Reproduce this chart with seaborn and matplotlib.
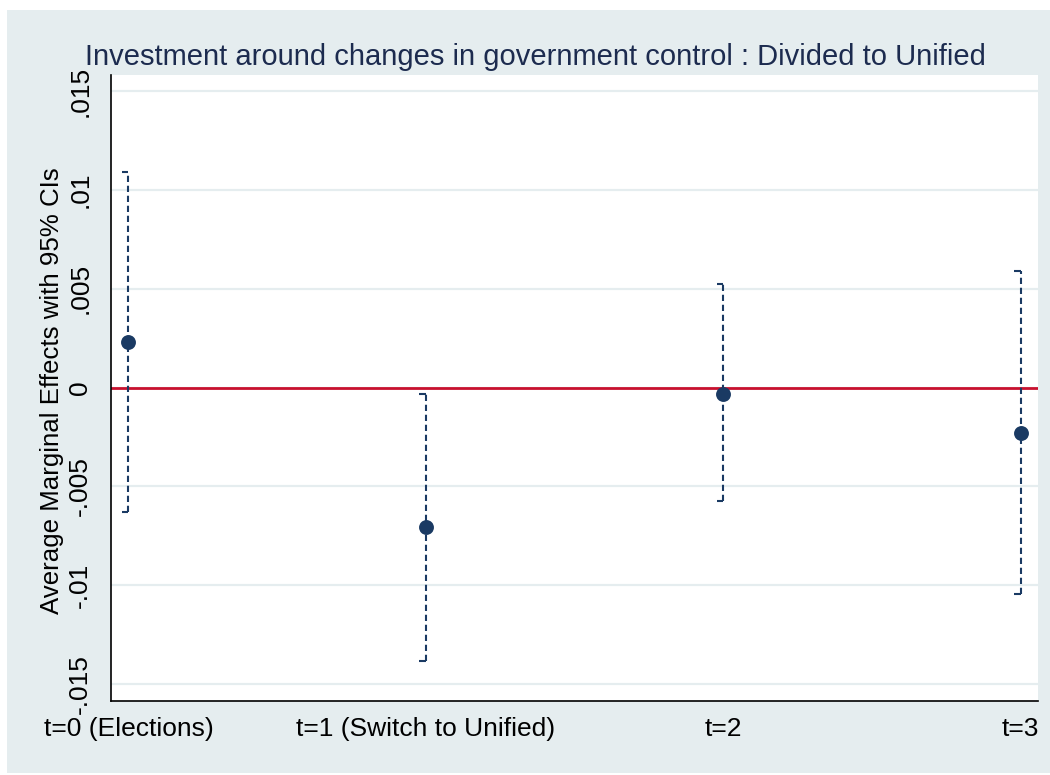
import matplotlib
matplotlib.use("Agg")
import matplotlib.pyplot as plt
from matplotlib.patches import Rectangle
import pandas as pd
import seaborn as sns

# Average marginal effects and 95% confidence bounds by period
periods = ["t=0 (Elections)", "t=1 (Switch to Unified)", "t=2", "t=3"]
margins = [0.00229, -0.00708, -0.00034, -0.00232]
ci_low = [-0.00632, -0.01387, -0.00574, -0.01047]
ci_high = [0.01092, -0.00034, 0.00523, 0.00590]

ytick_vals = [-0.015, -0.01, -0.005, 0, 0.005, 0.01, 0.015]
ytick_labels = ["-.015", "-.01", "-.005", "0", ".005", ".01", ".015"]

title = "Investment around changes in government control : Divided to Unified"
ylabel = "Average Marginal Effects with 95% CIs"

BG = "#E5EDEF"
NAVY = "#1A3A63"
RED = "#C8102E"
TITLE_C = "#1C2B4F"

sns.set_theme(style="white")
plt.rcParams["font.family"] = ["Liberation Sans", "DejaVu Sans"]

df = pd.DataFrame({"pos": range(len(periods)), "margin": margins,
                   "lo": ci_low, "hi": ci_high})

W, H = 1050, 775
fig = plt.figure(figsize=(W / 100, H / 100), dpi=100, facecolor="white")
fig.patches.append(Rectangle((7 / W, 2 / H), 1043 / W, 763 / H,
                             transform=fig.transFigure, facecolor=BG,
                             edgecolor="none", zorder=-10))

ax = fig.add_axes([111 / W, 74 / H, 927 / W, 626 / H])
ax.set_facecolor("white")

# horizontal grid in the background tint
for v in ytick_vals:
    ax.axhline(v, color=BG, lw=1.6, zorder=0)

# reference line at zero
ax.axhline(0, color=RED, lw=2.0, zorder=2)

# dashed confidence intervals with half caps
cap = 0.022
ax.vlines(df["pos"], df["lo"], df["hi"], colors=NAVY, lw=1.5,
          linestyles=(0, (3, 1.8)), zorder=3)
ax.hlines(df["lo"], df["pos"] - cap, df["pos"], colors=NAVY, lw=1.5, zorder=3)
ax.hlines(df["hi"], df["pos"] - cap, df["pos"], colors=NAVY, lw=1.5, zorder=3)

sns.scatterplot(data=df, x="pos", y="margin", ax=ax, s=115, color=NAVY,
                edgecolor=NAVY, linewidth=0, zorder=5, legend=False)

ax.set_xlim(-0.0588, 3.058)
ax.set_ylim(-0.01588, 0.01583)
ax.set_xticks(df["pos"], periods)
ax.set_yticks(ytick_vals, ytick_labels, rotation=90, va="center")
ax.set_xlabel("")
ax.set_ylabel("")

for side in ["top", "right"]:
    ax.spines[side].set_visible(False)
for side in ["left", "bottom"]:
    ax.spines[side].set_color("black")
    ax.spines[side].set_linewidth(1.2)

ax.tick_params(axis="both", which="major", direction="out", length=7.5,
               width=0.9, color="#333333", labelsize=19, labelcolor="black")
ax.tick_params(axis="y", pad=6)
ax.tick_params(axis="x", pad=4)

fig.text(535 / W, 1 - 65 / H, title, ha="center", va="baseline",
         fontsize=21, color=TITLE_C)
fig.text(52 / W, 1 - 391 / H, ylabel, ha="center", va="center",
         rotation=90, fontsize=18.6, color="black")

fig.savefig("out.png", dpi=100, facecolor=fig.get_facecolor())
